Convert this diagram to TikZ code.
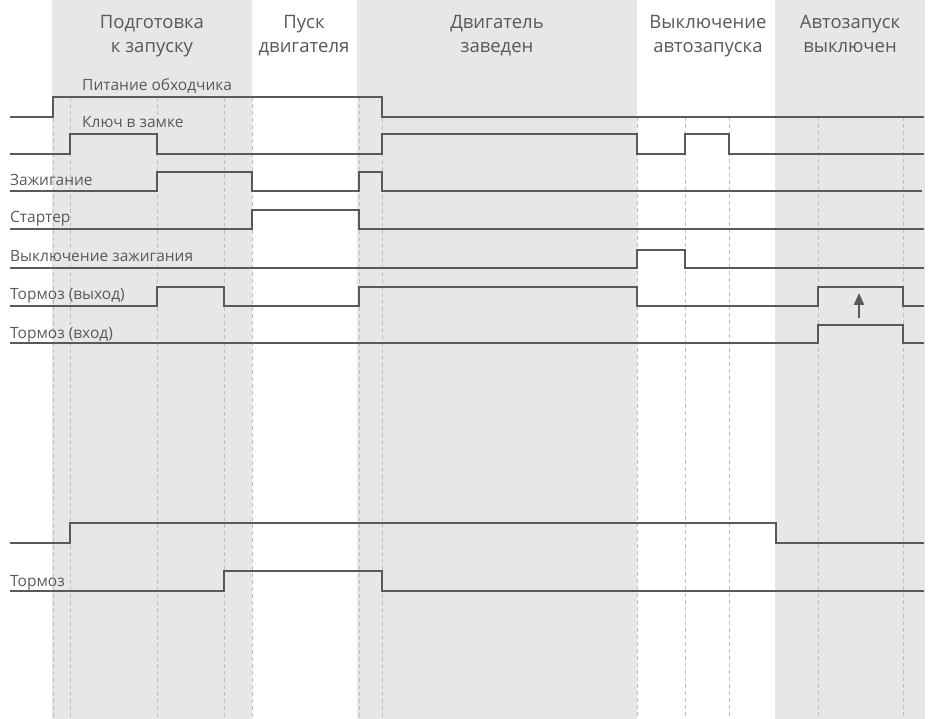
\documentclass[tikz,border=0pt]{standalone}
\usepackage{fontspec}
\setmainfont{Open Sans}
\usetikzlibrary{arrows.meta}
\definecolor{band}{HTML}{E6E7E8}
\definecolor{sigc}{HTML}{58595B}
\definecolor{txtc}{HTML}{58595B}
\definecolor{dashc}{HTML}{BCBEC0}
\tikzset{
  sig/.style={draw=sigc, line width=2.3pt, line join=miter},
  guide/.style={draw=dashc, line width=0.9pt, dash pattern=on 4pt off 3pt},
  head/.style={text=txtc, font=\fontsize{18.5}{24}\selectfont, align=center, anchor=base, inner sep=0pt},
  lbl/.style={text=txtc, font=\fontsize{15.5}{18}\selectfont, anchor=base west, inner sep=0pt},
}
\begin{document}
\begin{tikzpicture}[x=1pt, y=-1pt]
\useasboundingbox (0,0) rectangle (929,719);
% bands
\fill[band] (52,0) rectangle (252,719);
\fill[band] (357,0) rectangle (637,719);
\fill[band] (775,0) rectangle (925,719);
% guides
\foreach \x in {53,70,157,224,252,359,382} \draw[guide] (\x,97) -- (\x,719);
\foreach \x in {637,685,729,818,903} \draw[guide] (\x,117) -- (\x,719);
% headers
\node[head] (h1) at (152,53) {Подготовка\\к запуску};
\node[head] (h2) at (304,53) {Пуск\\двигателя};
\node[head] (h3) at (497,53) {Двигатель\\заведен};
\node[head] (h4) at (708,53) {Выключение\\автозапуска};
\node[head] (h5) at (850,53) {Автозапуск\\выключен};
% signals
\draw[sig] (10,117) -- (53,117) -- (53,97) -- (382,97) -- (382,117) -- (924,117);
\node[lbl] (l1) at (82,91) {Питание обходчика};
\draw[sig] (10,154) -- (70,154) -- (70,134) -- (157,134) -- (157,154) -- (382,154) -- (382,134) -- (637,134) -- (637,154) -- (685,154) -- (685,134) -- (729,134) -- (729,154) -- (924,154);
\node[lbl] (l2) at (82,128) {Ключ в замке};
\draw[sig] (10,191) -- (157,191) -- (157,172) -- (252,172) -- (252,191) -- (359,191) -- (359,172) -- (382,172) -- (382,191) -- (922,191);
\node[lbl] (l3) at (10,186) {Зажигание};
\draw[sig] (10,229) -- (252,229) -- (252,210) -- (359,210) -- (359,229) -- (924,229);
\node[lbl] (l4) at (10,223) {Стартер};
\draw[sig] (10,268) -- (637,268) -- (637,250) -- (685,250) -- (685,268) -- (924,268);
\node[lbl] (l5) at (10,262) {Выключение зажигания};
\draw[sig] (10,306) -- (157,306) -- (157,287) -- (224,287) -- (224,306) -- (359,306) -- (359,287) -- (637,287) -- (637,306) -- (818,306) -- (818,287) -- (903,287) -- (903,306) -- (924,306);
\node[lbl] (l6) at (10,300) {Тормоз (выход)};
\draw[sig] (10,343) -- (818,343) -- (818,325) -- (903,325) -- (903,343) -- (924,343);
\node[lbl] (l7) at (10,338) {Тормоз (вход)};
\coordinate (a1) at (859,318);
\coordinate (a2) at (859,293);
\draw[draw=sigc, line width=2.3pt, -{Triangle[length=12pt,width=10pt]}] (a1) -- (a2);
\draw[sig] (10,543) -- (70,543) -- (70,523) -- (776,523) -- (776,543) -- (924,543);
\draw[sig] (10,591) -- (224,591) -- (224,571) -- (382,571) -- (382,591) -- (924,591);
\node[lbl] (l9) at (10,586) {Тормоз};
\end{tikzpicture}
\end{document}
